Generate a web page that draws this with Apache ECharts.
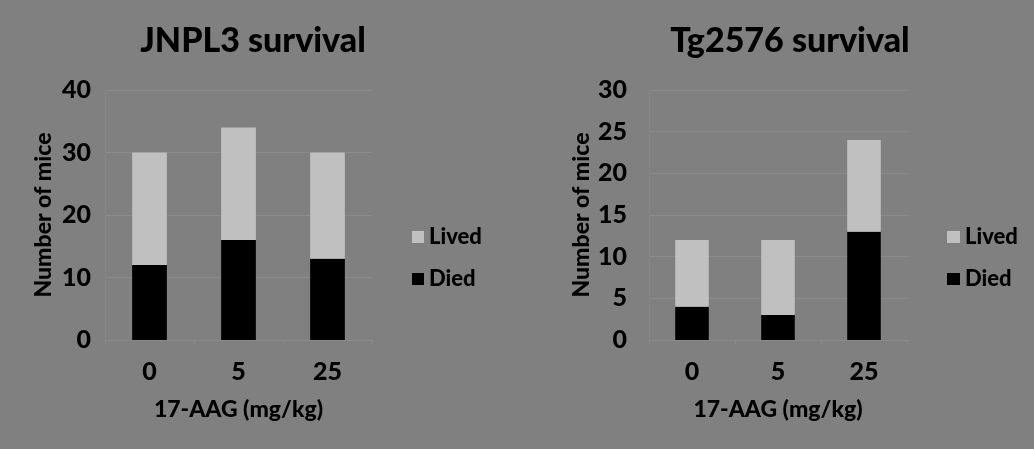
<!DOCTYPE html>
<html><head><meta charset="utf-8">
<script src="https://cdn.jsdelivr.net/npm/echarts@6/dist/echarts.min.js"></script>
<style>html,body{margin:0;padding:0;background:#808080;}#c{width:1034px;height:449px;}</style>
</head><body><div id="c"></div>
<script>
const categories = ['0', '5', '25'];
const jnplDied = [12, 16, 13];
const jnplLived = [18, 18, 17];
const tgDied = [4, 3, 13];
const tgLived = [8, 9, 11];
const titles = ['JNPL3 survival', 'Tg2576 survival'];
const xName = '17-AAG (mg/kg)';
const yName = 'Number of mice';

const FONT = 'Lato';
const txt = {color: '#000', fontFamily: FONT, fontWeight: 900};
const grids = [
  {left: 105, right: 662, top: 90, bottom: 109},
  {left: 649, right: 127, top: 90, bottom: 109}
];
function xAxis(i) {
  return {type: 'category', gridIndex: i, data: categories,
    name: xName, nameLocation: 'middle', nameGap: 58,
    nameTextStyle: Object.assign({fontSize: 23}, txt),
    axisLine: {lineStyle: {color: '#8a8a8a'}},
    axisTick: {show: true, lineStyle: {color: '#8a8a8a'}, length: 5},
    axisLabel: Object.assign({fontSize: 25, margin: 19}, txt)};
}
function yAxis(i, max, interval, gap, margin) {
  return {type: 'value', gridIndex: i, min: 0, max: max, interval: interval,
    name: yName, nameLocation: 'middle', nameGap: gap,
    nameTextStyle: Object.assign({fontSize: 23}, txt),
    axisLine: {show: true, lineStyle: {color: '#868686'}},
    axisTick: {show: false},
    splitLine: {lineStyle: {color: '#8a8a8a'}},
    axisLabel: Object.assign({fontSize: 25, margin: margin}, txt)};
}
function bar(name, data, i, color) {
  return {type: 'bar', name: name, stack: 's' + i, data: data,
    xAxisIndex: i, yAxisIndex: i, barWidth: '39%',
    itemStyle: {color: color}};
}
const chart = echarts.init(document.getElementById('c'));
chart.setOption({
  backgroundColor: '#808080',
  animation: false,
  title: [
    {text: titles[0], left: 248, top: 19, textAlign: 'center', textStyle: Object.assign({fontSize: 34}, txt)},
    {text: titles[1], left: 785, top: 19, textAlign: 'center', textStyle: Object.assign({fontSize: 34}, txt)}
  ],
  legend: [
    {orient: 'vertical', left: 407, top: 221, itemWidth: 12, itemHeight: 12, itemGap: 20,
     data: ['Lived', 'Died'], textStyle: Object.assign({fontSize: 22}, txt), icon: 'rect'},
    {orient: 'vertical', left: 942, top: 221, itemWidth: 13, itemHeight: 12, itemGap: 20,
     data: ['Lived', 'Died'], textStyle: Object.assign({fontSize: 22}, txt), icon: 'rect'}
  ],
  grid: grids,
  xAxis: [xAxis(0), xAxis(1)],
  yAxis: [yAxis(0, 40, 10, 50, 14), yAxis(1, 30, 5, 56, 22)],
  series: [
    bar('Died', jnplDied, 0, '#000000'),
    bar('Lived', jnplLived, 0, '#c0c0c0'),
    bar('Died', tgDied, 1, '#000000'),
    bar('Lived', tgLived, 1, '#c0c0c0')
  ]
});
</script></body></html>
